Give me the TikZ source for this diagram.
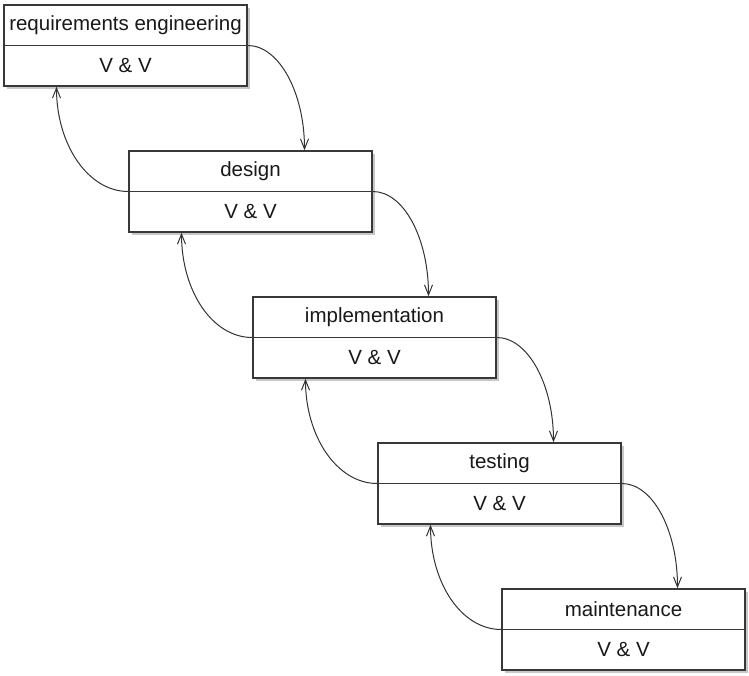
\documentclass[tikz,border=0pt]{standalone}
\usepackage{fontspec}
\setmainfont{Liberation Sans}
\usetikzlibrary{arrows.meta,shadows}
\begin{document}
\begin{tikzpicture}[x=1pt,y=-1pt,
  phasebox/.style={draw=black!78,line width=1.6pt,fill=white,minimum width=243pt,minimum height=81pt,inner sep=0pt,
    drop shadow={shadow xshift=3pt,shadow yshift=-3pt,fill=black!22,opacity=1}},
  lbl/.style={font=\fontsize{20.5}{24}\selectfont,text=black!90,inner sep=0pt},
  flow/.style={draw=black!80,line width=1pt,-{Straight Barb[length=10pt,width=8pt,line width=1pt]}}]
\useasboundingbox (0,0) rectangle (749,675);
\foreach \i/\cx/\cy/\t in {1/125.5/45.5/requirements engineering,2/250.5/191.5/design,3/374.5/337.5/implementation,4/499.5/483.5/testing,5/623.5/629.5/maintenance}{
  \node[phasebox] (b\i) at (\cx,\cy) {};
  \draw[draw=black!78,line width=1.2pt] (b\i.west) -- (b\i.east);
  \node[lbl] (t\i) at (\cx,\cy-20.25) {\t};
  \node[lbl] (v\i) at (\cx,\cy+20.25) {V \& V};
}
\foreach \i/\j in {1/2,2/3,3/4,4/5}{
  \draw[flow] (b\i.east) .. controls +(31,0) and +(0,-58) .. ([xshift=54pt]b\j.north);
  \draw[flow] (b\j.west) .. controls +(-40,0) and +(0,58) .. ([xshift=-69pt]b\i.south);
}
\end{tikzpicture}
\end{document}
